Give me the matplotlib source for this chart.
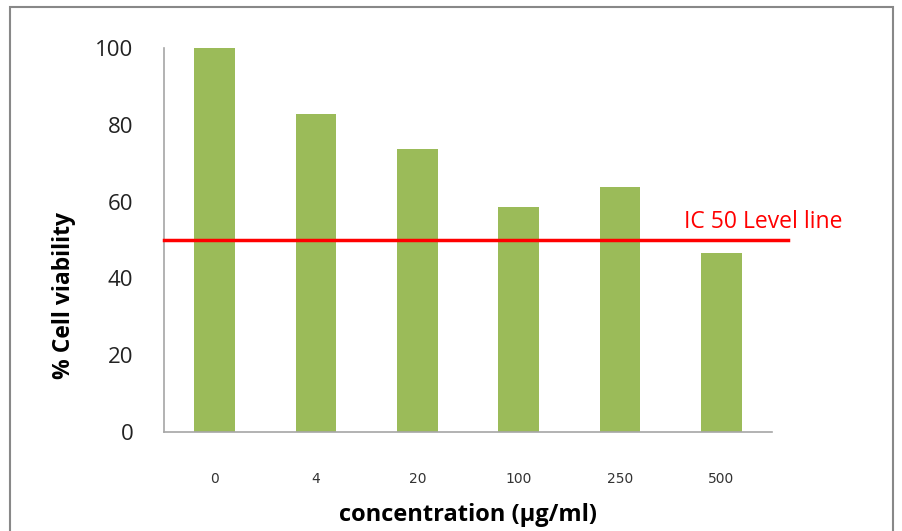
import matplotlib.pyplot as plt
from matplotlib.patches import Rectangle

# cell viability per concentration
concentrations = ["0", "4", "20", "100", "250", "500"]
viability = [100, 82.8, 73.8, 58.7, 63.8, 46.5]
ic50_level = 50

bar_color = "#9BBB59"
axis_color = "#A6A6A6"

fig = plt.figure(figsize=(9.02, 5.31), dpi=100)
ax = fig.add_axes([0.1818, 0.1864, 0.674, 0.7232])

x = range(len(concentrations))
ax.bar(x, viability, width=0.4, color=bar_color, zorder=2)

# IC50 reference line runs a little past the plot area
ax.plot([-0.5, len(concentrations) - 0.5 + 0.16], [ic50_level, ic50_level],
        color="#FF0000", linewidth=2.5, clip_on=False, zorder=3)
ax.text(4.63, ic50_level + 4.8, "IC 50 Level line", color="#FF0000",
        fontsize=16.5, family="Open Sans", va="center", ha="left")

ax.set_xlim(-0.5, len(concentrations) - 0.5)
ax.set_ylim(0, 100)
ax.set_yticks([0, 20, 40, 60, 80, 100])
ax.set_xticks(list(x))
ax.set_xticklabels(concentrations, fontsize=10, family="DejaVu Sans", color="#333333")
ax.tick_params(axis="x", length=0, pad=29)
ax.tick_params(axis="y", length=0, pad=22, labelsize=16, labelcolor="#222222")
for lbl in ax.get_yticklabels():
    lbl.set_family("Open Sans")

for side in ["top", "right"]:
    ax.spines[side].set_visible(False)
for side in ["left", "bottom"]:
    ax.spines[side].set_color(axis_color)
    ax.spines[side].set_linewidth(1.2)

ax.set_ylabel("% Cell viability", fontsize=16.5, fontweight="bold", family="Open Sans")
ax.yaxis.set_label_coords(-0.145, 0.355)
ax.set_xlabel("concentration (\u03bcg/ml)", fontsize=17, fontweight="bold", family="Open Sans")
ax.xaxis.set_label_coords(0.5, -0.185)

# chart-area frame, bottom edge falls outside the image
fig.patches.append(Rectangle((10 / 902, -0.1), 883 / 902, 1.1 - 7 / 531,
                             transform=fig.transFigure, fill=False,
                             edgecolor="#888888", linewidth=1.5))

fig.savefig("out.png", dpi=100)
